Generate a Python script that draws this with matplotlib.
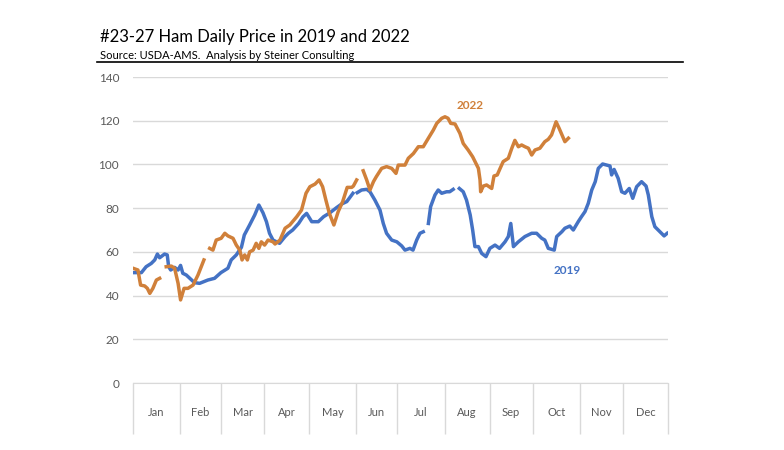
import numpy as np
import matplotlib.pyplot as plt
from matplotlib.lines import Line2D

nan = np.nan

# business days per month (x axis is trading-day index)
months = ['Jan', 'Feb', 'Mar', 'Apr', 'May', 'Jun', 'Jul', 'Aug', 'Sep', 'Oct', 'Nov', 'Dec']
month_days = [23, 20, 21, 22, 23, 20, 23, 22, 21, 23, 21, 22]

# 2019 series (trading-day index, price); nan = gap
x2019 = [0, 4.1, 6.4, 8.9, 10.6, 11.9, 13, 15.4, 16.7, 17.4, 18.4, 20.3, 22, 23.2, 24.3, 26, 27.7, 30,
         32.5, 36.5, 39.8, 42.9, 46.3, 47.9, 50.4, 52.9, 54.3, 56.9, 59.4, 61.4, 63.4, 65.1, 66.6, 68.3,
         71.5, 74.2, 75.8, 77.9, 80.8, 82.9, 84.7, 87.2, 90.4, 93, 96.1, 99.4, 101.8, 104.3, 107.3, 108.3,
         109.4, 111.5, 114, 115.6, 118, 120.5, 122.1, 123.7, 126.2, 128.7, 131.1, 132.7, 135.1, 136.6,
         138.4, 140, 141.6, 142.8,
         144.1, 145.2, 147.3, 148.9, 150.6, 153, 154.5, 156.2, 157.7,
         159.2, 161.1, 162.7, 164.5, 165.7, 166.8, 168.5, 170.1, 172.2, 174.1, 176.6, 178.8, 181.5, 183.1,
         184.3, 185.6, 188, 191.2, 194.5, 196.9, 199.4, 200.9, 202.6, 205.5, 206.7, 209.2, 210.7, 213.1,
         214.8, 217.2, 218.8, 220.5, 222.1, 223.8, 225.5, 227, 229.1, 231.1, 232.7, 233.5, 234.7, 236.7,
         238.4, 240, 242.1, 243.8, 245.7, 248.1, 250.3, 251.4, 253.1, 254.6, 257.1, 259.1, 260.6]
y2019 = [50.5, 50.5, 53.2, 54.7, 56.3, 59, 57.3, 59, 58.6, 53.2, 51.7, 52.9, 51.7, 53.8, 50.2, 49.4, 47.9, 45.9,
         45.6, 47.1, 47.9, 50.5, 52.5, 56.3, 58.6, 62.1, 67.7, 72.3, 76.9, 81.4, 77.9, 73.8, 68.5, 65.4,
         63.9, 67, 68.5, 70, 73, 76, 77.6, 73.8, 73.8, 76.1, 77.9, 80.3, 81.9, 83, 86.8, nan,
         87.1, 88.3, 88.6, 87.5, 83.7, 79.1, 73, 68.5, 65.4, 64.6, 62.7, 60.8, 61.6, 60.8,
         65.4, 68.5, 69.2, nan,
         73, 80.7, 86, 88.3, 86.8, 87.5, 87.5, 88.6, nan,
         89, 87.5, 83.7, 76.9, 70, 62.4, 62.4, 59.3, 57.8, 61.6, 63.1, 61.6, 64.6, 67,
         73, 62.4, 64.6, 67, 68.5, 68.5, 66.2, 65.4, 61.6, 60.8, 67, 69.2, 70.8, 71.8,
         70, 73.8, 76.1, 78.4, 82.2, 88.3, 92.1, 98.2, 100.2, 99.7, 99.3, 95.2, 97.7, 93.6,
         87.5, 86.8, 89, 84.5, 89.8, 92.1, 90.1, 86, 76.1, 71.5, 69.2, 67.3, 68.5]

# 2022 series
x2022 = [0, 2.4, 3.7, 5.7, 7, 8.2, 9.7, 11.4, 13, 14.6,
         16.2, 18.7, 20.3, 22, 23.2, 24.9, 26.8, 29.3, 31.7, 34.6, 36,
         37.4, 39, 40.6, 43, 44.8, 46.3, 48.8, 50.4, 52.1, 53.2, 54.5, 55.8, 56.9, 58.6, 60.1, 61.4, 62.6,
         64.2, 65.9, 68.3, 69.3, 71.7, 74.2, 76.5, 79.9, 82.2, 84.4, 86.3, 88.8, 90.8, 92.5, 94.1, 95.8,
         98, 100.1, 102.3, 104.5, 106.7, 107.5, 109.1, 110.7,
         112.3, 114, 115.6, 117.3, 118.7, 121.3, 123.7, 126.2, 128.3, 129.4, 132.7, 134.3, 136.8, 139.2,
         141.6, 144.1, 146.5, 148.2, 150.6, 152.2, 153.7, 155, 157.1, 159.5, 161.1, 163.5, 165.7, 168.5,
         169.3, 169.6, 170.9, 172.5, 175, 176.1, 177.7, 179.1, 180.6, 183.1, 184.8, 186.3, 188, 189.6,
         191.2, 192.9, 194.5, 196.1, 198.5, 200.9, 202.6, 204.2, 206.4, 207.9, 210.7, 212.4]
y2022 = [52.5, 51.7, 44.8, 44.4, 43.3, 41, 43.3, 47.1, 47.9, nan,
         53.2, 53.5, 52.5, 45.6, 38, 43.3, 43.3, 44.8, 49.4, 56.3, nan,
         61.6, 60.8, 65.4, 66.2, 68.5, 67.3, 66.2, 63.1, 60.8, 56.3, 58.6, 56.3, 60, 60.8, 63.9, 61.6, 64.6,
         63.1, 65.4, 64.6, 63.6, 65.4, 70.8, 72.3, 76.1, 79.1, 86.8, 89.8, 91, 92.9, 89.8, 83.7, 77.6,
         72.3, 78.4, 83, 89.5, 89.5, 90.1, 92.9, nan,
         97.1, 92.9, 88.3, 92.1, 94.4, 98.2, 99, 98.2, 95.9, 99.7, 99.7, 102.8, 105, 108.1,
         108.1, 112, 115.7, 118.8, 121.1, 121.8, 121.1, 118.8, 118.5, 114.2, 109.6, 106.6, 103.5, 98.2,
         92.9, 87.5, 90.1, 90.6, 89, 94.7, 95.2, 98.2, 101.3, 102.8, 107.4, 111, 108.1, 108.9,
         108.1, 107.4, 104.3, 106.6, 107.4, 110.4, 111.5, 113.5, 119.5, 116.5, 110.4, 112]

blue = '#4472C4'
orange = '#D0803A'
grey = '#595959'
grid = '#D9D9D9'

plt.rcParams['font.family'] = ['Lato', 'DejaVu Sans']

fig = plt.figure(figsize=(7.84, 4.5), dpi=100)
ax = fig.add_axes([133 / 784, 1 - 383 / 450, 535 / 784, 306 / 450])

ax.plot(x2019, y2019, color=blue, lw=2.5)
ax.plot(x2022, y2022, color=orange, lw=2.5)

bounds = np.concatenate([[0], np.cumsum(month_days)])
total = bounds[-1]
ax.set_xlim(0, total)
ax.set_ylim(0, 140)
ax.set_yticks(range(0, 141, 20))
ax.yaxis.grid(True, color=grid, lw=1)
ax.set_axisbelow(True)
for s in ['left', 'right', 'top']:
    ax.spines[s].set_visible(False)
ax.spines['bottom'].set_color(grid)
ax.tick_params(axis='y', length=0, labelsize=8.5, labelcolor=grey, pad=10)

# month separators below the axis + centred labels
ax.set_xticks(bounds)
ax.set_xticklabels([])
ax.tick_params(axis='x', length=37, color=grid, width=1, direction='out')
centers = (bounds[:-1] + bounds[1:]) / 2
for c, m in zip(centers, months):
    ax.text(c, -0.095, m, transform=ax.get_xaxis_transform(), ha='center', va='center',
            fontsize=8, color=grey)

ax.text(164.5, 127, '2022', color=orange, fontsize=8.5, fontweight='bold', ha='center', va='center')
ax.text(212, 51.5, '2019', color=blue, fontsize=8.5, fontweight='bold', ha='center', va='center')

fig.text(100 / 784, 1 - 42 / 450, '#23-27 Ham Daily Price in 2019 and 2022', fontsize=12, color='black')
fig.text(100 / 784, 1 - 59 / 450, 'Source: USDA-AMS.  Analysis by Steiner Consulting', fontsize=8, color='black')
fig.add_artist(Line2D([97 / 784, 683 / 784], [1 - 62 / 450, 1 - 62 / 450], color='black', lw=1.2))

fig.savefig('out.png', dpi=100)
